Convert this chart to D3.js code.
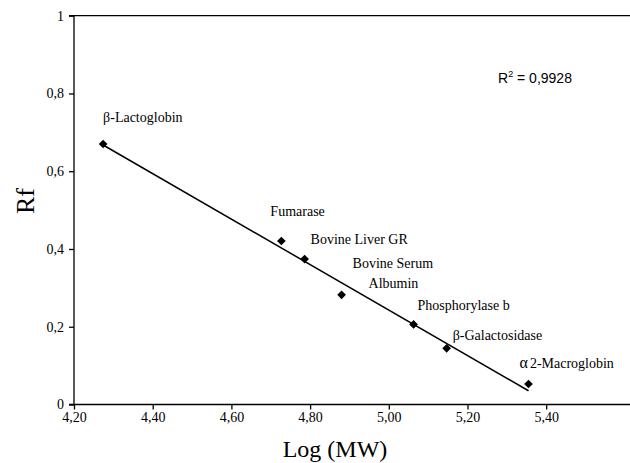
<!DOCTYPE html>
<html><head><meta charset="utf-8">
<script src="https://cdn.jsdelivr.net/npm/d3@7/dist/d3.min.js"></script>
<style>
body{margin:0;background:#fff}svg{display:block}
.serif, .serif text{font-family:"Liberation Serif","Times New Roman",serif;}
.sans{font-family:"Liberation Sans",Arial,sans-serif;}
</style>
</head><body>
<svg id="chart" width="630" height="463"></svg>
<script>
const proteins = ["β-Lactoglobin","Fumarase","Bovine Liver GR","Bovine Serum Albumin","Phosphorylase b","β-Galactosidase","α2-Macroglobin"];
const logMW = [4.274, 4.727, 4.786, 4.880, 5.063, 5.147, 5.355];
const rf = [0.670, 0.4205, 0.374, 0.282, 0.206, 0.1445, 0.0527];
const xTicks = [4.2, 4.4, 4.6, 4.8, 5.0, 5.2, 5.4];
const yTicks = [0, 0.2, 0.4, 0.6, 0.8, 1];
const r2Text = "0,9928";

const svg = d3.select("#chart");
const W = 630;
const x = d3.scaleLinear().domain([4.2, 5.6]).range([74, 624.9]);
const y = d3.scaleLinear().domain([0, 1]).range([404.5, 15.7]);
const fmt = v => v === 0 ? "0" : v === 1 ? "1" : d3.format(".1f")(v).replace(".", ",");
const fmtX = v => d3.format(".2f")(v).replace(".", ",");

// frame top line
svg.append("line").attr("x1", x(4.2)).attr("x2", W).attr("y1", y(1)).attr("y2", y(1))
  .attr("stroke", "#000").attr("stroke-width", 1.3);
// x axis line extended to edge
svg.append("line").attr("x1", x(4.2)).attr("x2", W).attr("y1", y(0)).attr("y2", y(0))
  .attr("stroke", "#000").attr("stroke-width", 1.3);

const xAxis = svg.append("g").attr("class", "serif").attr("transform", `translate(0,${y(0)})`)
  .call(d3.axisBottom(x).tickValues(xTicks).tickFormat(fmtX).tickSize(5).tickPadding(3));
xAxis.attr("font-family", null);
xAxis.select(".domain").remove();
xAxis.selectAll("text").attr("font-size", 14).attr("fill", "#000");
xAxis.selectAll("line").attr("stroke-width", 1.3);

const yAxis = svg.append("g").attr("class", "serif").attr("transform", `translate(${x(4.2)},0)`)
  .call(d3.axisLeft(y).tickValues(yTicks).tickFormat(fmt).tickSize(5).tickPadding(5));
yAxis.attr("font-family", null);
yAxis.select(".domain").attr("stroke-width", 1.3).attr("d", `M-5,${y(1)}H0V${y(0)}H-5`);
yAxis.selectAll("text").attr("font-size", 14).attr("fill", "#000");
yAxis.selectAll("line").attr("stroke-width", 1.3);

// linear regression
const n = logMW.length;
const mx = d3.mean(logMW), my = d3.mean(rf);
let sxy = 0, sxx = 0;
for (let i = 0; i < n; i++) { sxy += (logMW[i]-mx)*(rf[i]-my); sxx += (logMW[i]-mx)**2; }
const slope = sxy/sxx, icpt = my - slope*mx;
const x0 = d3.min(logMW), x1 = d3.max(logMW);
svg.append("line").attr("x1", x(x0)).attr("y1", y(icpt+slope*x0))
  .attr("x2", x(x1)).attr("y2", y(icpt+slope*x1))
  .attr("stroke", "#000").attr("stroke-width", 1.5);

// points
svg.selectAll("path.pt").data(d3.range(n)).join("path").attr("class", "pt")
  .attr("d", d3.symbol(d3.symbolSquare, 38))
  .attr("transform", i => `translate(${x(logMW[i])},${y(rf[i])}) rotate(45)`)
  .attr("fill", "#000");

// labels (offsets relative to points)
const lab = svg.append("g").attr("class", "serif").attr("font-size", 14).attr("fill", "#000");
const lp = (i, dx, dy) => [x(logMW[i]) + dx, y(rf[i]) + dy];
function addLabel(i, dx, dy, text) {
  const [px, py] = lp(i, dx, dy);
  lab.append("text").attr("x", px).attr("y", py).text(text);
}
addLabel(0, 0, -22, "β-Lactoglobin");
addLabel(1, -11, -25, "Fumarase");
addLabel(2, 6, -15, "Bovine Liver GR");
addLabel(3, 11, -27, "Bovine Serum");
addLabel(3, 27, -7, "Albumin");
addLabel(4, 4, -14, "Phosphorylase b");
addLabel(5, 6, -8, "β-Galactosidase");
{
  const [px, py] = lp(6, -9, -16);
  const t = lab.append("text").attr("x", px).attr("y", py);
  t.append("tspan").attr("font-size", 16).text("α");
  t.append("tspan").attr("dx", 2).text("2-Macroglobin");
}

// R² annotation
const r2 = svg.append("text").attr("class", "sans").attr("x", 498).attr("y", 83)
  .attr("font-size", 14).attr("fill", "#000");
r2.append("tspan").text("R");
r2.append("tspan").attr("font-size", 9).attr("dy", -6).text("2");
r2.append("tspan").attr("dy", 6).text(" = " + r2Text);

// axis titles
svg.append("text").attr("class", "serif").attr("x", 335).attr("y", 457).attr("text-anchor", "middle")
  .attr("font-size", 24).attr("fill", "#000").text("Log (MW)");
svg.append("text").attr("class", "serif").attr("transform", "translate(34,201) rotate(-90)").attr("text-anchor", "middle")
  .attr("font-size", 26).attr("fill", "#000").text("Rf");
</script>
</body></html>
